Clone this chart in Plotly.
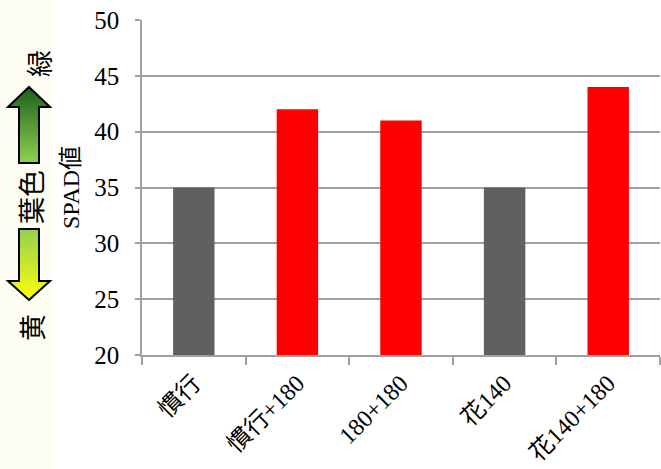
import plotly.graph_objects as go

# ---- data ----
categories = ["慣行", "慣行+180", "180+180", "花140", "花140+180"]
spad_values = [35, 42, 41, 35, 44]
bar_colors = ["#606060", "#FF0000", "#FF0000", "#606060", "#FF0000"]
y_ticks = [20, 25, 30, 35, 40, 45, 50]

# ---- geometry helpers (pixel -> paper) ----
W, H = 661, 469
ML, MR, MT, MB = 142, 1, 20, 114
PW, PH = W - ML - MR, H - MT - MB


def px(x):
    return (x - ML) / PW


def py(y):
    return (H - MB - y) / PH


def lerp(c1, c2, t):
    return "rgb(%d,%d,%d)" % tuple(round(a + (b - a) * t) for a, b in zip(c1, c2))


shapes = []
# left cream strip
shapes.append(dict(type="rect", xref="paper", yref="paper", layer="below",
                   x0=px(0), x1=px(52), y0=py(H), y1=py(0),
                   fillcolor="#FDFDF3", line=dict(width=0)))


def arrow(cx, tip, base, end, head_half, shaft_half, c_tip, c_end):
    """Vertical arrow; tip at y=tip, head base at y=base, shaft end at y=end."""
    lo, hi = min(tip, end), max(tip, end)
    y = lo
    while y < hi:
        yc = y + 0.5
        if (tip < end and yc < base) or (tip > end and yc > base):
            hw = head_half * abs(yc - tip) / abs(base - tip)
        else:
            hw = shaft_half
        t = abs(yc - tip) / abs(end - tip)
        shapes.append(dict(type="rect", xref="paper", yref="paper",
                           x0=px(cx - hw), x1=px(cx + hw),
                           y0=py(y + 1.3), y1=py(y - 0.3),
                           fillcolor=lerp(c_tip, c_end, t), line=dict(width=0)))
        y += 1
    pts = [(cx, tip), (cx + head_half, base), (cx + shaft_half, base),
           (cx + shaft_half, end), (cx - shaft_half, end), (cx - shaft_half, base),
           (cx - head_half, base)]
    path = "M " + " L ".join("%f,%f" % (px(a), py(b)) for a, b in pts) + " Z"
    shapes.append(dict(type="path", xref="paper", yref="paper", path=path,
                       line=dict(color="black", width=2)))


arrow(29, 87, 107, 163, 21, 10, (28, 96, 28), (146, 208, 80))
arrow(29, 300, 281, 229, 21, 10, (255, 255, 10), (146, 208, 80))

annotations = [
    dict(text="緑", x=px(38), y=py(64)),
    dict(text="葉色", x=px(30), y=py(197)),
    dict(text="黄", x=px(31), y=py(328)),
]
for a in annotations:
    a.update(xref="paper", yref="paper", showarrow=False, textangle=-90,
             xanchor="center", yanchor="middle",
             font=dict(family="Noto Sans CJK JP", size=27, color="black"))

fig = go.Figure(go.Bar(x=categories, y=spad_values, marker_color=bar_colors,
                       marker_line_width=0))

font_fam = "Liberation Serif, Noto Sans CJK JP, serif"
fig.update_layout(
    width=W, height=H,
    margin=dict(l=ML, r=MR, t=MT, b=MB, autoexpand=False),
    paper_bgcolor="white", plot_bgcolor="white",
    bargap=0.6, showlegend=False,
    shapes=shapes, annotations=annotations,
    font=dict(family=font_fam, color="black"),
)
fig.update_xaxes(showline=True, linecolor="#A0A0A0", linewidth=1.5,
                 ticks="outside", tickson="boundaries", ticklen=8,
                 tickcolor="#A0A0A0", tickwidth=1.5, automargin=False,
                 tickangle=-45, tickfont=dict(size=24, family=font_fam),
                 ticklabelstandoff=3, showgrid=False)
fig.update_yaxes(range=[20, 50], tickvals=y_ticks,
                 showline=True, linecolor="#A0A0A0", linewidth=1.5,
                 ticks="outside", ticklen=5, tickcolor="#A0A0A0", tickwidth=1.5,
                 showgrid=True, gridcolor="#A0A0A0", gridwidth=1.5,
                 zeroline=False, ticklabelstandoff=11, automargin=False,
                 tickfont=dict(size=25, family=font_fam),
                 title=dict(text="SPAD値", standoff=8,
                            font=dict(size=24, family=font_fam)))

fig.write_html("out.html")
